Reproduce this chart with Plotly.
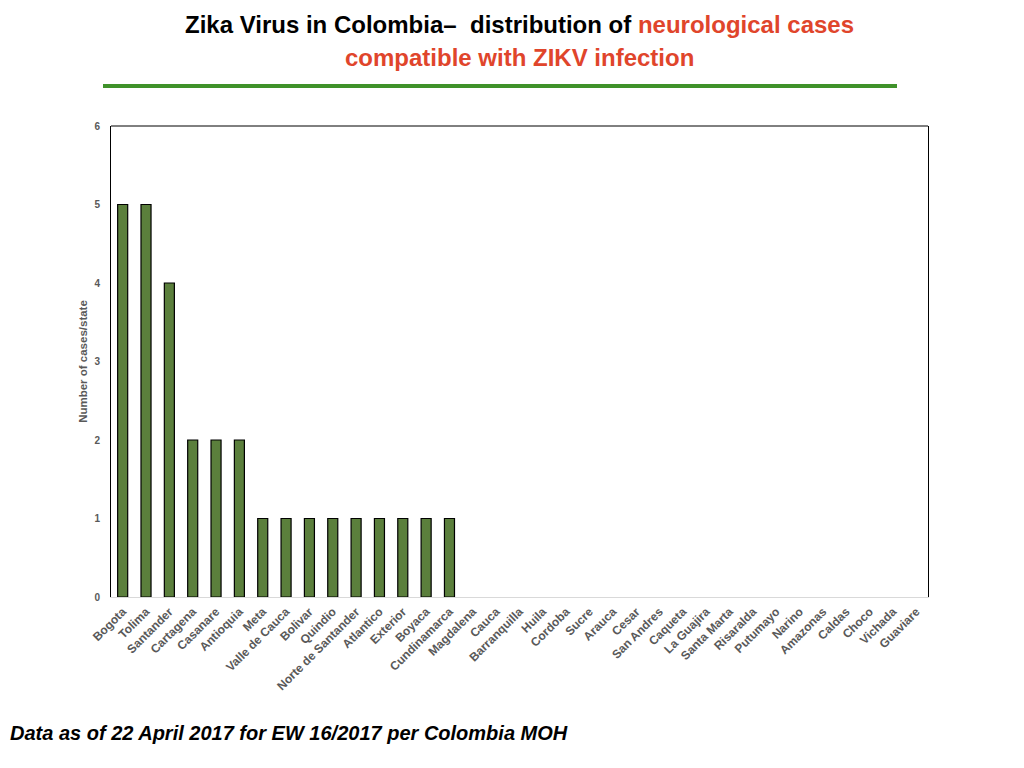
import plotly.graph_objects as go

# Departments / cities in the order shown on the x axis
states = [
    'Bogota', 'Tolima', 'Santander', 'Cartagena', 'Casanare', 'Antioquia',
    'Meta', 'Valle de Cauca', 'Bolivar', 'Quindio', 'Norte de Santander',
    'Atlantico', 'Exterior', 'Boyaca', 'Cundinamarca', 'Magdalena', 'Cauca',
    'Barranquilla', 'Huila', 'Cordoba', 'Sucre', 'Arauca', 'Cesar',
    'San Andres', 'Caqueta', 'La Guajira', 'Santa Marta', 'Risaralda',
    'Putumayo', 'Narino', 'Amazonas', 'Caldas', 'Choco', 'Vichada', 'Guaviare'
]

# Neurological cases per state
cases = [5, 5, 4, 2, 2, 2, 1, 1, 1, 1, 1, 1, 1, 1, 1,
         0, 0, 0, 0, 0, 0, 0, 0, 0, 0, 0, 0, 0, 0, 0, 0, 0, 0, 0, 0]

y_ticks = [0, 1, 2, 3, 4, 5, 6]

GRAY = '#595959'
FONT = 'Liberation Sans, Arial, sans-serif'

# no outline on empty bars, so they don't leave a stub on the axis
outline = [1.2 if v > 0 else 0 for v in cases]

bars = go.Bar(
    x=states,
    y=cases,
    marker=dict(color='#5b7f3c', line=dict(color='black', width=outline)),
    hoverinfo='x+y',
)

fig = go.Figure(data=[bars])

fig.update_layout(
    width=1016,
    height=760,
    paper_bgcolor='white',
    plot_bgcolor='white',
    margin=dict(l=103, r=96, t=118, b=171),
    bargap=0.57,
    showlegend=False,
    font=dict(family=FONT, color=GRAY),
)

fig.update_xaxes(
    type='category',
    tickangle=-45,
    tickfont=dict(size=12, color=GRAY, family=FONT, weight='bold'),
    showline=True,
    linecolor='#d9d9d9',
    linewidth=1,
    ticks='',
    ticklabelstandoff=2,
    showgrid=False,
)

fig.update_yaxes(
    range=[0, 6],
    tickvals=y_ticks,
    tickfont=dict(size=10, color=GRAY, family=FONT, weight='bold'),
    showline=True,
    mirror=True,
    linecolor='black',
    linewidth=1,
    showgrid=False,
    zeroline=False,
    ticks='',
    ticklabelstandoff=8,
    title=dict(text='Number of cases/state', standoff=4,
               font=dict(size=11.5, color=GRAY, family=FONT, weight='bold')),
)

# top border of the plot frame
fig.add_shape(type='line', xref='paper', yref='paper',
              x0=0, x1=1, y0=1, y1=1, line=dict(color='black', width=1))

# title (two lines, partly red)
fig.add_annotation(
    xref='paper', yref='paper', x=0.5, y=1,
    yshift=102, xanchor='center', yanchor='middle', showarrow=False,
    text='Zika Virus in Colombia\u2013  distribution of '
         '<span style="color:#e0452b">neurological cases</span>',
    font=dict(size=24, color='black', family=FONT, weight='bold'),
)
fig.add_annotation(
    xref='paper', yref='paper', x=0.5, y=1,
    yshift=69, xanchor='center', yanchor='middle', showarrow=False,
    text='compatible with ZIKV infection',
    font=dict(size=24, color='#e0452b', family=FONT, weight='bold'),
)

# green rule under the title
fig.add_shape(type='line', xref='paper', yref='paper',
              x0=-8 / 817, x1=786 / 817, y0=1 + 40 / 471, y1=1 + 40 / 471,
              line=dict(color='#3f922a', width=4))

# footnote
fig.add_annotation(
    xref='paper', yref='paper', x=-103 / 817, y=-136 / 471,
    xanchor='left', yanchor='middle', showarrow=False,
    text='<b><i>Data as of 22 April 2017 for EW 16/2017 per Colombia MOH</i></b>',
    font=dict(size=20, color='black', family=FONT),
)

fig.write_html('out.html')
